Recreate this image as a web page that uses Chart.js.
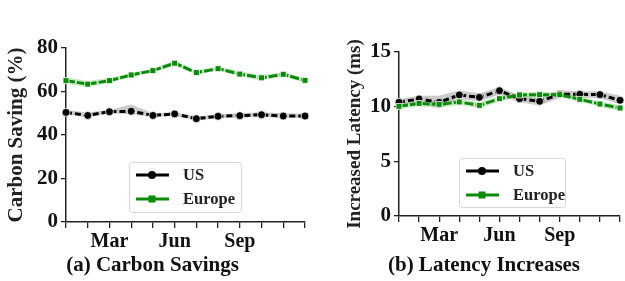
<!DOCTYPE html>
<html>
<head>
<meta charset="utf-8">
<script src="https://cdn.jsdelivr.net/npm/chart.js@4.4.1/dist/chart.umd.min.js"></script>
<style>
  body { margin: 0; background: #fff; }
  .box { position: absolute; top: 0; height: 281px; }
</style>
</head>
<body>
<div class="box" style="left:0;width:312px"><canvas id="carbonChart"></canvas></div>
<div class="box" style="left:343px;width:282px"><canvas id="latencyChart"></canvas></div>
<script>
var months = ['Jan', 'Feb', 'Mar', 'Apr', 'May', 'Jun', 'Jul', 'Aug', 'Sep', 'Oct', 'Nov', 'Dec'];
var shownMonths = ['Mar', 'Jun', 'Sep'];

// (a) carbon savings, %
var usSaving = [50.4, 49.0, 50.7, 50.9, 49.0, 49.7, 47.5, 48.6, 48.9, 49.3, 48.7, 48.7];
var usSavingHigh = [51.5, 50.3, 51.5, 54.0, 50.0, 50.5, 48.5, 49.5, 50.0, 50.5, 50.0, 49.8];
var usSavingLow = [49.5, 48.0, 50.0, 49.5, 48.2, 48.8, 46.7, 47.8, 48.0, 48.3, 47.8, 47.8];
var euSaving = [65.0, 63.4, 65.0, 67.6, 69.6, 73.0, 68.7, 70.5, 68.0, 66.3, 67.9, 65.1];
var euSavingHigh = [66.5, 65.0, 66.2, 68.6, 70.6, 74.2, 69.8, 71.5, 69.3, 67.6, 68.9, 66.2];
var euSavingLow = [63.6, 62.0, 64.0, 66.6, 68.7, 72.0, 67.7, 69.6, 67.0, 65.0, 67.0, 64.0];
var savingTicks = [0, 20, 40, 60, 80];

// (b) latency increase, ms
var usLatency = [10.4, 10.7, 10.4, 11.07, 10.85, 11.46, 10.73, 10.49, 11.13, 11.13, 11.1, 10.58];
var usLatencyHigh = [10.7, 11.0, 11.0, 11.5, 11.2, 11.8, 11.0, 10.9, 11.5, 11.4, 11.4, 11.0];
var usLatencyLow = [10.1, 10.4, 9.8, 10.7, 10.5, 11.1, 10.4, 10.1, 10.8, 10.8, 10.8, 10.2];
var euLatency = [10.03, 10.3, 10.21, 10.43, 10.12, 10.73, 11.07, 11.1, 11.1, 10.67, 10.24, 9.88];
var euLatencyHigh = [10.3, 10.6, 10.5, 10.7, 10.4, 11.0, 11.3, 11.35, 11.35, 10.9, 10.5, 10.15];
var euLatencyLow = [9.8, 10.0, 9.9, 10.15, 9.85, 10.45, 10.85, 10.85, 10.85, 10.45, 10.0, 9.6];
var latencyTicks = [0, 5, 10, 15];

var FONT = "'Liberation Serif', 'Times New Roman', serif";
var GREEN = '#0b8a0b';

// legend with a line sample + marker, like the matplotlib one
var lineLegend = {
    id: 'lineLegend',
    afterDraw: function(chart, args, opts) {
        var c = chart.ctx, a = chart.chartArea;
        var x = a.left + opts.x, y = a.top + opts.y;
        c.save();
        c.fillStyle = 'rgba(255,255,255,0.9)';
        c.strokeStyle = '#d6d6d6';
        c.lineWidth = 1;
        c.beginPath();
        c.roundRect(x + 0.5, y + 0.5, opts.w, opts.h, 3);
        c.fill();
        c.stroke();
        var items = [
            {label: 'US', color: '#000', style: 'circle'},
            {label: 'Europe', color: GREEN, style: 'rect'}
        ];
        items.forEach(function(it, i) {
            var ly = y + 13 + i * 24;
            c.strokeStyle = it.color;
            c.lineWidth = 3;
            c.beginPath();
            c.moveTo(x + 7, ly);
            c.lineTo(x + 40, ly);
            c.stroke();
            c.fillStyle = it.color;
            if (it.style == 'circle') {
                c.beginPath();
                c.arc(x + 23, ly, 4, 0, Math.PI * 2);
                c.fill();
            } else {
                c.fillRect(x + 19.5, ly - 3.5, 7, 7);
            }
            c.fillStyle = '#222';
            c.font = 'bold 16.5px ' + FONT;
            c.textBaseline = 'middle';
            c.fillText(it.label, x + 54, ly + 1);
        });
        c.restore();
    }
};

function makeChart(id, cfg) {
    var ctx = document.getElementById(id).getContext('2d');
    return new Chart(ctx, {
        type: 'line',
        data: {
            labels: months,
            datasets: [
                {
                    data: cfg.us, borderColor: '#000', borderWidth: 3, borderDash: [6, 3],
                    pointStyle: 'circle', pointRadius: 4, pointBackgroundColor: '#000',
                    pointBorderColor: '#fff', pointBorderWidth: 0.8, fill: false, order: 1
                },
                {
                    data: cfg.eu, borderColor: GREEN, borderWidth: 3, borderDash: [9, 2],
                    pointStyle: 'rect', pointRadius: 4.2, pointBackgroundColor: GREEN,
                    pointBorderColor: '#fff', pointBorderWidth: 0.8, fill: false, order: 0
                },
                { data: cfg.usHigh, borderWidth: 0, pointRadius: 0, fill: '+1', backgroundColor: 'rgba(150,150,150,0.5)', order: 5 },
                { data: cfg.usLow, borderWidth: 0, pointRadius: 0, fill: false, order: 5 },
                { data: cfg.euHigh, borderWidth: 0, pointRadius: 0, fill: '+1', backgroundColor: 'rgba(120,200,110,0.38)', order: 4 },
                { data: cfg.euLow, borderWidth: 0, pointRadius: 0, fill: false, order: 4 }
            ]
        },
        options: {
            animation: false,
            responsive: true,
            maintainAspectRatio: false,
            layout: { padding: cfg.padding },
            plugins: {
                legend: { display: false },
                tooltip: { enabled: false },
                title: {
                    display: true, position: 'bottom', text: cfg.title, color: '#111',
                    font: { family: FONT, size: 21, weight: 'bold', lineHeight: 1 },
                    padding: { top: 1.5, bottom: 4.5 }
                },
                lineLegend: cfg.legend
            },
            scales: {
                x: {
                    offset: false,
                    grid: { display: true, drawOnChartArea: false, drawTicks: true, tickLength: 6, color: '#222', lineWidth: 1.3 },
                    border: { display: true, color: '#222', width: 1.5 },
                    ticks: {
                        autoSkip: false, maxRotation: 0, padding: 2, color: '#111',
                        font: { family: FONT, size: 20, weight: 'bold' },
                        callback: function(v) {
                            var m = months[v];
                            return shownMonths.indexOf(m) >= 0 ? m : '';
                        }
                    },
                    afterFit: function(s) { s.height = cfg.xHeight; }
                },
                y: {
                    min: cfg.ticks[0], max: cfg.ticks[cfg.ticks.length - 1],
                    afterBuildTicks: function(s) { s.ticks = cfg.ticks.map(function(v) { return {value: v}; }); },
                    grid: { display: true, drawOnChartArea: false, drawTicks: true, tickLength: 5, color: '#222', lineWidth: 1.3 },
                    border: { display: true, color: '#222', width: 1.5 },
                    ticks: { padding: 3, color: '#111', font: { family: FONT, size: 21, weight: 'bold' } },
                    title: {
                        display: true, text: cfg.yTitle, color: '#222',
                        font: { family: FONT, size: cfg.yTitleSize, weight: 'bold' },
                        padding: { top: cfg.yTitlePad, bottom: 0 }
                    },
                    afterFit: function(s) { s.width = cfg.yWidth; }
                }
            }
        },
        plugins: [lineLegend]
    });
}

makeChart('carbonChart', {
    us: usSaving, usHigh: usSavingHigh, usLow: usSavingLow,
    eu: euSaving, euHigh: euSavingHigh, euLow: euSavingLow,
    ticks: savingTicks,
    title: '(a) Carbon Savings',
    yTitle: 'Carbon Saving (%)', yTitleSize: 21, yTitlePad: 4.4,
    yWidth: 66, xHeight: 32,
    padding: { top: 48, right: 7, left: 0, bottom: 0 },
    legend: { x: 63, y: 114, w: 112, h: 50 }
});

makeChart('latencyChart', {
    us: usLatency, usHigh: usLatencyHigh, usLow: usLatencyLow,
    eu: euLatency, euHigh: euLatencyHigh, euLow: euLatencyLow,
    ticks: latencyTicks,
    title: '(b) Latency Increases',
    yTitle: 'Increased Latency (ms)', yTitleSize: 19, yTitlePad: 0.8,
    yWidth: 56, xHeight: 38,
    padding: { top: 52, right: 0, left: 0, bottom: 0 },
    legend: { x: 60, y: 106, w: 106, h: 49 }
});
</script>
</body>
</html>
